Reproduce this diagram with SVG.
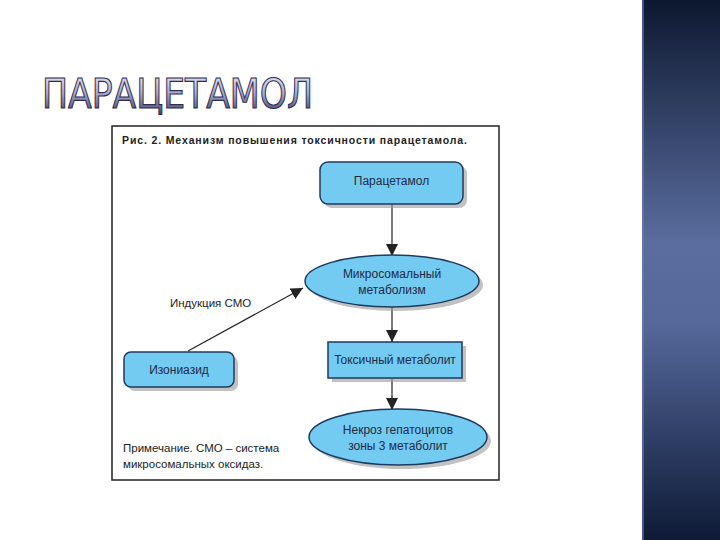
<svg xmlns="http://www.w3.org/2000/svg" width="720" height="540" viewBox="0 0 720 540">
<defs>
<linearGradient id="panel" x1="0" y1="0" x2="0" y2="1">
<stop offset="0" stop-color="#0d1830"/>
<stop offset="0.45" stop-color="#5a6d9e"/>
<stop offset="0.6" stop-color="#55689a"/>
<stop offset="1" stop-color="#0e1a36"/>
</linearGradient>
<linearGradient id="title" x1="0" y1="0" x2="0" y2="1">
<stop offset="0" stop-color="#f4f4fa"/>
<stop offset="0.5" stop-color="#a9a9c8"/>
<stop offset="1" stop-color="#34345e"/>
</linearGradient>
<marker id="arr" viewBox="0 0 12 12" refX="12" refY="6" markerWidth="12" markerHeight="12" markerUnits="userSpaceOnUse" orient="auto">
<path d="M0,0 L12,6 L0,12 Z" fill="#222"/>
</marker>
<style>
.node{fill:#74cbf2;stroke:#1e3a5f;stroke-width:1.5}
.shadow{fill:#9a9a9a;opacity:0.6}
.t{font-family:"Liberation Sans",Arial,sans-serif;font-size:12px;fill:#1c2a44;text-anchor:middle}
.lbl{font-family:"Liberation Sans",Arial,sans-serif;font-size:11.5px;fill:#222}
.conn{stroke:#222;stroke-width:1.2;fill:none;marker-end:url(#arr)}
</style>
</defs>
<rect width="720" height="540" fill="#ffffff"/>
<rect x="642" y="0" width="78" height="540" fill="url(#panel)"/>
<rect x="642" y="0" width="2" height="540" fill="#6b7fa8" opacity="0.6"/>
<g transform="translate(42,108) scale(1,1.15)">
<text x="0" y="0" font-family="'DejaVu Sans',sans-serif" font-size="36" textLength="271" lengthAdjust="spacingAndGlyphs" fill="url(#title)" stroke="#2c2c55" stroke-width="1">ПАРАЦЕТАМОЛ</text>
</g>
<rect x="112" y="126" width="387" height="354" fill="#ffffff" stroke="#222" stroke-width="1.5"/>
<text x="122" y="144" font-family="'Liberation Sans',Arial,sans-serif" font-size="10.5" font-weight="bold" fill="#222" textLength="345" lengthAdjust="spacing">Рис. 2. Механизм повышения токсичности парацетамола.</text>
<g id="connectors">
<line class="conn" x1="392" y1="204" x2="392" y2="256"/>
<line class="conn" x1="392" y1="307" x2="392" y2="342"/>
<line class="conn" x1="392" y1="378" x2="392" y2="410"/>
<line class="conn" x1="188" y1="351" x2="303" y2="288"/>
<text class="lbl" x="170" y="307">Индукция СМО</text>
</g>
<g id="paracetamol">
<rect class="shadow" x="324" y="166" width="143" height="42" rx="8"/>
<rect class="node" x="320" y="162" width="143" height="42" rx="8"/>
<text class="t" x="391.5" y="185">Парацетамол</text>
</g>
<g id="microsomal">
<ellipse class="shadow" cx="396" cy="285" rx="87" ry="26"/>
<ellipse class="node" cx="392" cy="281" rx="87" ry="26"/>
<text class="t" x="392" y="278">Микросомальный</text>
<text class="t" x="392" y="294">метаболизм</text>
</g>
<g id="izoniazid">
<rect class="shadow" x="128" y="356" width="110" height="35" rx="7"/>
<rect class="node" x="124" y="352" width="110" height="35" rx="7"/>
<text class="t" x="179" y="374">Изониазид</text>
</g>
<g id="toxic">
<rect class="shadow" x="332" y="346" width="134" height="36"/>
<rect class="node" x="328" y="342" width="134" height="36"/>
<text class="t" x="395" y="364">Токсичный метаболит</text>
</g>
<g id="necrosis">
<ellipse class="shadow" cx="402" cy="441" rx="89" ry="28"/>
<ellipse class="node" cx="398" cy="437" rx="89" ry="28"/>
<text class="t" x="398" y="434">Некроз гепатоцитов</text>
<text class="t" x="398" y="450">зоны 3 метаболит</text>
</g>
<text class="lbl" x="123" y="452">Примечание. СМО – система</text>
<text class="lbl" x="123" y="468">микросомальных оксидаз.</text>
</svg>
